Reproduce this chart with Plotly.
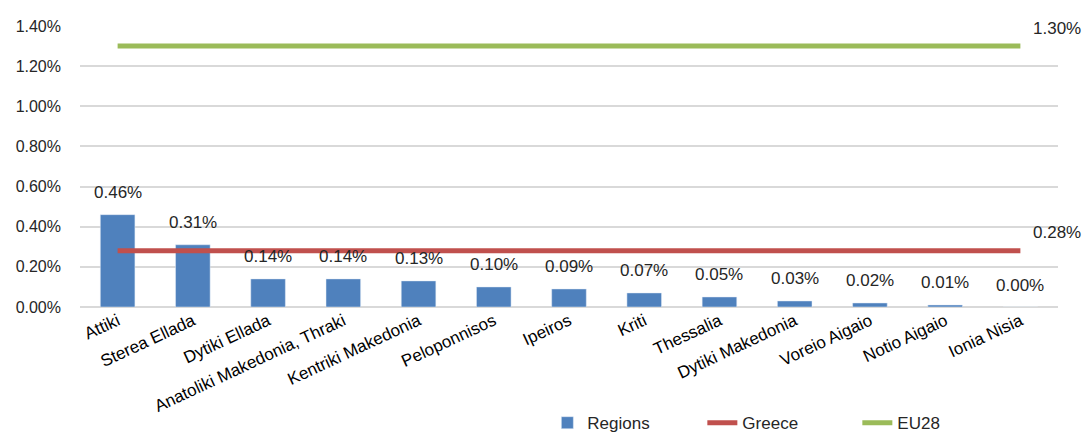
import plotly.graph_objects as go

regions = ["Attiki", "Sterea Ellada", "Dytiki Ellada", "Anatoliki Makedonia, Thraki",
           "Kentriki Makedonia", "Peloponnisos", "Ipeiros", "Kriti", "Thessalia",
           "Dytiki Makedonia", "Voreio Aigaio", "Notio Aigaio", "Ionia Nisia"]
region_values = [0.46, 0.31, 0.14, 0.14, 0.13, 0.10, 0.09, 0.07, 0.05, 0.03, 0.02, 0.01, 0.00]
greece_value = 0.28
eu28_value = 1.30
y_ticks = [0.0, 0.2, 0.4, 0.6, 0.8, 1.0, 1.2, 1.4]

FONT = "Liberation Sans"

fig = go.Figure()
fig.add_trace(go.Bar(x=regions, y=region_values, name="Regions",
                     marker_color="#4F81BD", width=0.46))
fig.add_trace(go.Scatter(x=regions, y=[greece_value] * len(regions), name="Greece",
                         mode="lines", line=dict(color="#C0504D", width=5)))
fig.add_trace(go.Scatter(x=regions, y=[eu28_value] * len(regions), name="EU28",
                         mode="lines", line=dict(color="#9BBB59", width=5)))

for r, v in zip(regions, region_values):
    fig.add_annotation(x=r, y=v, text=f"{v:.2f}%", showarrow=False, yshift=22,
                       font=dict(family=FONT, size=17, color="#262626"))
for v in (greece_value, eu28_value):
    fig.add_annotation(x=regions[-1], y=v, text=f"{v:.2f}%", showarrow=False,
                       xanchor="left", xshift=11, yshift=18,
                       font=dict(family=FONT, size=17, color="#262626"))

fig.update_layout(
    width=1086, height=434,
    margin=dict(l=80, r=28, t=26, b=127),
    plot_bgcolor="white", paper_bgcolor="white",
    font=dict(family=FONT, size=16, color="#262626"),
    showlegend=True,
    legend=dict(orientation="h", xref="container", yref="container",
                x=0.504, xanchor="left", y=0.025, yanchor="middle",
                font=dict(family=FONT, size=17, color="#262626"),
                entrywidth=110, entrywidthmode="pixels", traceorder="normal"),
    bargap=0.5,
)
fig.update_xaxes(range=[-0.5, len(regions) - 0.5],
                 tickangle=-25, showgrid=False, ticks="", showline=False, automargin=False,
                 tickfont=dict(family=FONT, size=17, color="#000000"))
fig.update_yaxes(range=[0, 1.4], tickvals=y_ticks,
                 ticktext=[f"{t:.2f}%" for t in y_ticks],
                 showgrid=True, gridcolor="#D9D9D9", gridwidth=1.5,
                 zeroline=True, zerolinecolor="#D9D9D9", zerolinewidth=1.5,
                 ticks="", ticklabelstandoff=18, automargin=False,
                 tickfont=dict(family=FONT, size=16, color="#262626"))

fig.write_html("out.html")
